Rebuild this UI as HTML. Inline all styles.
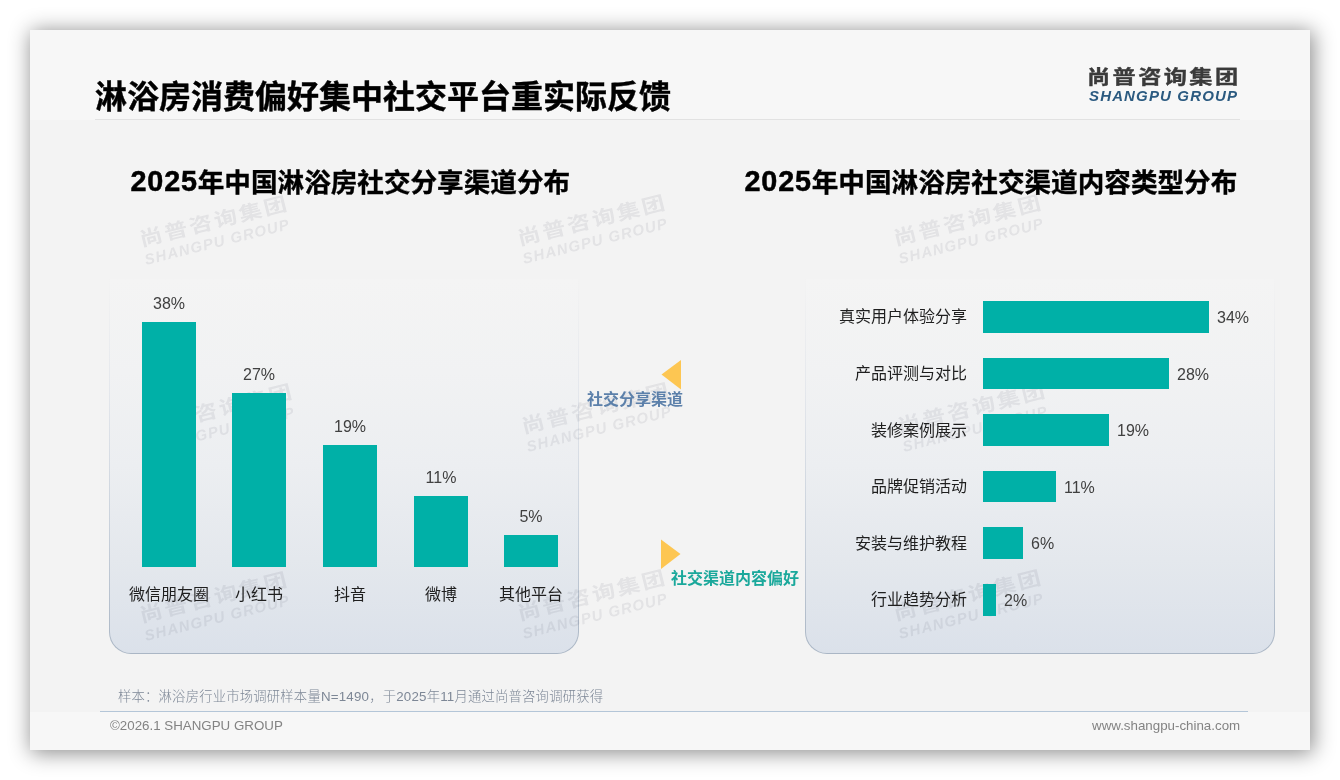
<!DOCTYPE html>
<html lang="zh-CN">
<head>
<meta charset="utf-8">
<title>淋浴房消费偏好集中社交平台重实际反馈</title>
<style>
  html, body { margin: 0; padding: 0; background: #ffffff; }
  body { width: 1340px; height: 780px; position: relative; overflow: hidden;
         font-family: "Liberation Sans", "Noto Sans CJK SC", sans-serif; }
  .abs { position: absolute; white-space: nowrap; line-height: 1; }
  #slide { position: absolute; left: 30px; top: 30px; width: 1280px; height: 720px;
           background: #f3f3f3; box-shadow: 2px 2px 20px 1px rgba(0,0,0,0.46); overflow: hidden; }
  #hdr { position: absolute; left: 0; top: 0; width: 1280px; height: 90px; background: #f7f7f7; }
  #ftr { position: absolute; left: 0; top: 682px; width: 1280px; height: 38px; background: #f7f7f7; }
  #hline { position: absolute; left: 65px; top: 89.3px; width: 1145px; height: 1.2px; background: #e2e2e2; }
  #fline { position: absolute; left: 70px; top: 681px; width: 1148px; height: 1px; background: #b4c6d8; }

  #title { left: 65px; top: 50.8px; font-size: 32px; font-weight: 700; color: #000; -webkit-text-stroke: 0.4px #000; }
  .logo-cn { font-size: 23.2px; font-weight: 700; letter-spacing: 2.4px; color: #3a3a3a; transform: scaleY(0.84); transform-origin: 0 0; -webkit-text-stroke: 0.45px currentColor; }
  .logo-en { font-size: 15px; font-weight: 700; font-style: italic; letter-spacing: 1.15px; color: #2b5a80; }

  .ctitle { font-size: 26.6px; -webkit-text-stroke: 0.35px #000; font-weight: 700; color: #000; }
  .ctitle .n { font-size: 28.8px; line-height: 0; letter-spacing: 0.8px; position: relative; top: -1px; -webkit-text-stroke: 0.5px #000; }

  .panel { position: absolute; width: 468px; height: 374px; top: 249px;
           border: 1px solid transparent; border-top: none;
           border-radius: 0 0 22px 22px;
           background:
             linear-gradient(to bottom, #f4f4f4 0%, #f1f2f3 25%, #eceef1 50%, #e4e8ed 75%, #dbe1ea 100%) padding-box,
             linear-gradient(to bottom, #f3f3f3 0%, #e4e7ec 30%, #cad2dc 65%, #aab6c5 100%) border-box; }

  .bar { position: absolute; background: #00b0a7; }
  .val { font-size: 16px; color: #404040; }
  .cat { font-size: 16px; color: #1f1f1f; }
  .cat.c { transform: translateX(-50%); }
  .cat.r { transform: translateX(-100%); }
  .val.c { transform: translateX(-50%); }

  .tag { font-size: 16px; font-weight: 700; }
  .wm { position: absolute; width: 160px; height: 40px; transform: rotate(-14deg); transform-origin: 50% 50%; opacity: 1; }
  .wm .logo-cn { -webkit-text-stroke: 0; color: rgba(40,40,60,0.08); position: absolute; left: 0; top: 0; white-space: nowrap; line-height: 1; }
  .wm .logo-en { color: rgba(40,40,60,0.08); position: absolute; left: 0; top: 22px; white-space: nowrap; line-height: 1; }

  .foot { font-size: 13.33px; color: #838383; }
  #sample { left: 88px; top: 660px; font-size: 13.33px; color: #7d8796; letter-spacing: 0.2px; font-weight: 300; }
</style>
</head>
<body>
<div id="slide">
  <div id="hdr"></div>
  <div id="ftr"></div>
  <div id="hline"></div>
  <div id="fline"></div>

  <!-- watermarks (behind panels) -->

  <!-- panels -->
  <div class="panel" style="left:78.5px;"></div>
  <div class="panel" style="left:774.5px;"></div>


  <!-- watermarks -->
  <div class="wm" style="left:110px; top:181px;"><div class="logo-cn">尚普咨询集团</div><div class="logo-en">SHANGPU GROUP</div></div>
  <div class="wm" style="left:487.5px; top:179.5px;"><div class="logo-cn">尚普咨询集团</div><div class="logo-en">SHANGPU GROUP</div></div>
  <div class="wm" style="left:863.5px; top:179.5px;"><div class="logo-cn">尚普咨询集团</div><div class="logo-en">SHANGPU GROUP</div></div>
  <div class="wm" style="left:114.5px; top:369px;"><div class="logo-cn">尚普咨询集团</div><div class="logo-en">SHANGPU GROUP</div></div>
  <div class="wm" style="left:492px; top:367.5px;"><div class="logo-cn">尚普咨询集团</div><div class="logo-en">SHANGPU GROUP</div></div>
  <div class="wm" style="left:868px; top:367.5px;"><div class="logo-cn">尚普咨询集团</div><div class="logo-en">SHANGPU GROUP</div></div>
  <div class="wm" style="left:110px; top:556.5px;"><div class="logo-cn">尚普咨询集团</div><div class="logo-en">SHANGPU GROUP</div></div>
  <div class="wm" style="left:487.5px; top:554.5px;"><div class="logo-cn">尚普咨询集团</div><div class="logo-en">SHANGPU GROUP</div></div>
  <div class="wm" style="left:863.5px; top:554.5px;"><div class="logo-cn">尚普咨询集团</div><div class="logo-en">SHANGPU GROUP</div></div>

  <!-- header -->
  <div id="title" class="abs">淋浴房消费偏好集中社交平台重实际反馈</div>
  <div class="abs logo-cn" style="left:1057px; top:37.6px;">尚普咨询集团</div>
  <div class="abs logo-en" style="left:1059px; top:58px;">SHANGPU GROUP</div>

  <!-- chart titles -->
  <div class="abs ctitle" style="left:100.5px; top:139.7px;"><span class="n">2025</span>年中国淋浴房社交分享渠道分布</div>
  <div class="abs ctitle" style="left:714.5px; top:139.7px;"><span class="n">2025</span>年中国淋浴房社交渠道内容类型分布</div>

  <!-- left chart bars -->
  <div class="bar" style="left:112px; top:292px; width:54px; height:245px;"></div>
  <div class="bar" style="left:202px; top:363px; width:54px; height:174px;"></div>
  <div class="bar" style="left:293px; top:414.5px; width:54px; height:122.5px;"></div>
  <div class="bar" style="left:384px; top:466px; width:54px; height:71px;"></div>
  <div class="bar" style="left:474px; top:504.5px; width:54px; height:32.5px;"></div>

  <div class="abs val c" style="left:139px; top:266px;">38%</div>
  <div class="abs val c" style="left:229px; top:337px;">27%</div>
  <div class="abs val c" style="left:320px; top:389px;">19%</div>
  <div class="abs val c" style="left:411px; top:440px;">11%</div>
  <div class="abs val c" style="left:501px; top:479px;">5%</div>

  <div class="abs cat c" style="left:139px; top:556.5px;">微信朋友圈</div>
  <div class="abs cat c" style="left:229px; top:556.5px;">小红书</div>
  <div class="abs cat c" style="left:320px; top:556.5px;">抖音</div>
  <div class="abs cat c" style="left:411px; top:556.5px;">微博</div>
  <div class="abs cat c" style="left:501px; top:556.5px;">其他平台</div>

  <!-- middle tags -->
  <svg class="abs" style="left:630px; top:329px;" width="22" height="32" viewBox="0 0 22 32"><polygon points="1.5,15.5 21,1 21,30.5" fill="#fdc652"/></svg>
  <div class="abs tag" style="left:557px; top:362px; color:#5c80aa;">社交分享渠道</div>
  <svg class="abs" style="left:630px; top:509px;" width="22" height="32" viewBox="0 0 22 32"><polygon points="1,0.5 20.5,15 1,30" fill="#fdc652"/></svg>
  <div class="abs tag" style="left:641px; top:541px; color:#1aa89b;">社交渠道内容偏好</div>

  <!-- right chart -->
  <div class="bar" style="left:953px; top:271.2px; width:226.0px; height:31.6px;"></div>
  <div class="bar" style="left:953px; top:327.8px; width:186.2px; height:31.6px;"></div>
  <div class="bar" style="left:953px; top:384.3px; width:126.3px; height:31.6px;"></div>
  <div class="bar" style="left:953px; top:440.8px; width:73.1px; height:31.6px;"></div>
  <div class="bar" style="left:953px; top:497.4px; width:39.9px; height:31.6px;"></div>
  <div class="bar" style="left:953px; top:554.0px; width:13.3px; height:31.6px;"></div>

  <div class="abs cat r" style="left:937px; top:279.4px;">真实用户体验分享</div>
  <div class="abs cat r" style="left:937px; top:335.9px;">产品评测与对比</div>
  <div class="abs cat r" style="left:937px; top:392.5px;">装修案例展示</div>
  <div class="abs cat r" style="left:937px; top:449.0px;">品牌促销活动</div>
  <div class="abs cat r" style="left:937px; top:505.6px;">安装与维护教程</div>
  <div class="abs cat r" style="left:937px; top:562.1px;">行业趋势分析</div>

  <div class="abs val" style="left:1187px; top:280.0px;">34%</div>
  <div class="abs val" style="left:1147px; top:336.6px;">28%</div>
  <div class="abs val" style="left:1087px; top:393.1px;">19%</div>
  <div class="abs val" style="left:1034px; top:449.6px;">11%</div>
  <div class="abs val" style="left:1001px; top:506.2px;">6%</div>
  <div class="abs val" style="left:974px; top:562.8px;">2%</div>

  <!-- footer -->
  <div id="sample" class="abs">样本：淋浴房行业市场调研样本量N=1490，于2025年11月通过尚普咨询调研获得</div>
  <div class="abs foot" style="left:80px; top:688.7px;">©2026.1 SHANGPU GROUP</div>
  <div class="abs foot" style="left:1062px; top:689px; letter-spacing:0px;">www.shangpu-china.com</div>
</div>
</body>
</html>
